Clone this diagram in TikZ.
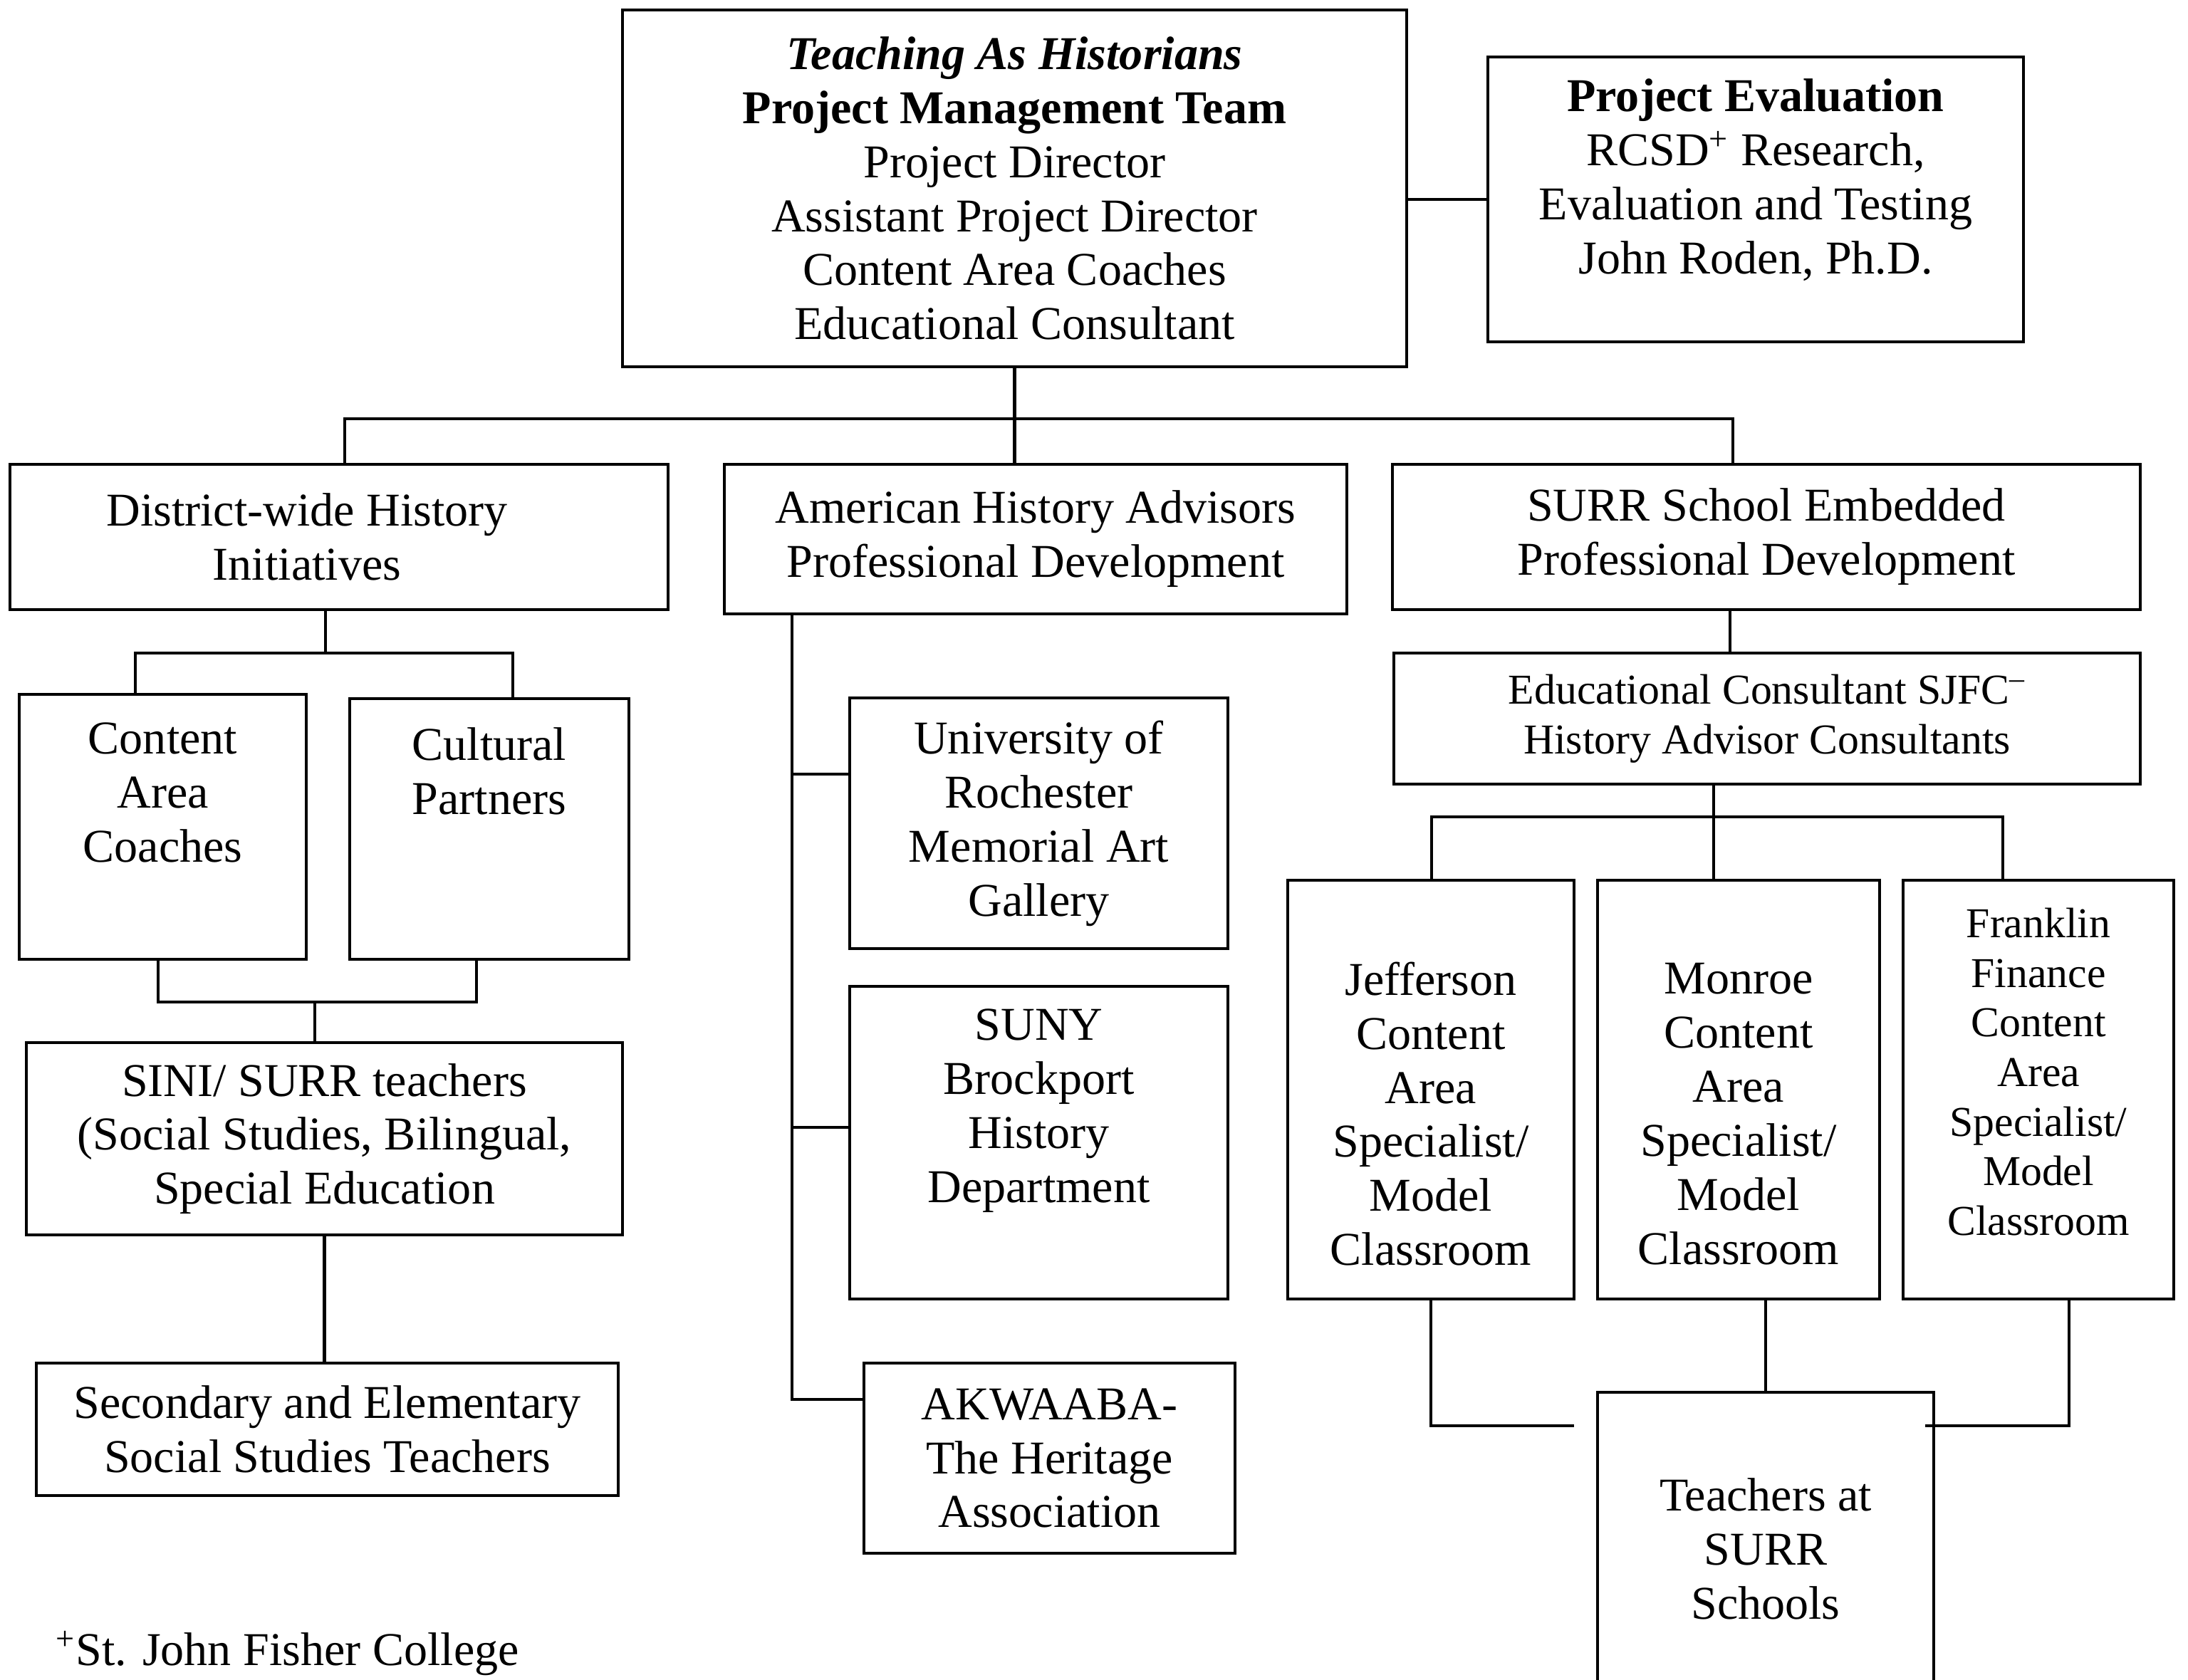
\documentclass[tikz,border=0pt]{standalone}
\usepackage{fontspec}
\setmainfont{Liberation Serif}

\tikzset{
  box/.style={draw,line width=1.2pt,inner sep=0pt,align=center,
    font=\fontsize{18.8}{21.6}\selectfont},
  txt/.style={inner sep=0pt,align=center,font=\fontsize{18.8}{21.6}\selectfont},
  smalltxt/.style={txt,font=\fontsize{17}{19.8}\selectfont},
  link/.style={line width=1.2pt}
}

\begin{document}
\begin{tikzpicture}
      \useasboundingbox (0,0) rectangle (30.72,-23.58);
      \clip (0,0) rectangle (30.72,-23.58);
      % management level
      \node[box,minimum width=11.01cm,minimum height=5.01cm] (team) at (14.245,-2.645)
        {\textbf{\textit{Teaching As Historians}}\\\textbf{Project Management Team}\\
         Project Director\\Assistant Project Director\\Content Area Coaches\\Educational Consultant};
      \node[box,minimum width=7.52cm,minimum height=4cm] (eval) at (24.65,-2.8) {};
      \node[txt] (evaltxt) at ([yshift=.27cm]eval.center)
        {\textbf{Project Evaluation}\\RCSD\textsuperscript{+} Research,\\Evaluation and Testing\\John Roden, Ph.D.};
      % three branches
      \node[box,minimum width=9.24cm,minimum height=2.04cm] (dist) at (4.76,-7.54) {};
      \node[txt] (disttxt) at ([xshift=-.45cm]dist.center) {District-wide History\\Initiatives};
      \node[box,minimum width=8.74cm,minimum height=2.1cm] (amer) at (14.54,-7.57)
        {American History Advisors\\Professional Development};
      \node[box,minimum width=10.5cm,minimum height=2.04cm] (surr) at (24.8,-7.54)
        {SURR School Embedded\\Professional Development};
      % left branch
      \node[box,minimum width=4.03cm,minimum height=3.72cm] (cont) at (2.285,-11.61) {};
      \node[txt] (conttxt) at ([yshift=.48cm]cont.center) {Content\\Area\\Coaches};
      \node[box,minimum width=3.92cm,minimum height=3.66cm] (cult) at (6.87,-11.64) {};
      \node[txt] (culttxt) at ([yshift=.81cm]cult.center) {Cultural\\Partners};
      \node[box,minimum width=8.37cm,minimum height=2.7cm] (sini) at (4.555,-15.99)
        {SINI/ SURR teachers\\(Social Studies, Bilingual,\\Special Education};
      \node[box,minimum width=8.17cm,minimum height=1.86cm] (sec) at (4.595,-20.07)
        {Secondary and Elementary\\Social Studies Teachers};
      % middle branch
      \node[box,minimum width=5.31cm,minimum height=3.52cm] (univ) at (14.585,-11.56)
        {University of\\Rochester\\Memorial Art\\Gallery};
      \node[box,minimum width=5.31cm,minimum height=4.39cm] (suny) at (14.585,-16.045) {};
      \node[txt] (sunytxt) at ([yshift=.45cm]suny.center) {SUNY\\Brockport\\History\\Department};
      \node[box,minimum width=5.21cm,minimum height=2.67cm] (akw) at (14.735,-20.475)
        {AKWAABA-\\The Heritage\\Association};
      % right branch
      \node[box,minimum width=10.48cm,minimum height=1.84cm] (edu) at (24.81,-10.09) {};
      \node[smalltxt] (edutxt) at (edu.center)
        {Educational Consultant SJFC\textsuperscript{--}\\History Advisor Consultants};
      \node[box,minimum width=4.02cm,minimum height=5.88cm] (jeff) at (20.09,-15.3) {};
      \node[txt] (jefftxt) at ([yshift=-.34cm]jeff.center)
        {Jefferson\\Content\\Area\\Specialist/\\Model\\Classroom};
      \node[box,minimum width=3.96cm,minimum height=5.88cm] (mon) at (24.41,-15.3) {};
      \node[txt] (montxt) at ([yshift=-.34cm]mon.center)
        {Monroe\\Content\\Area\\Specialist/\\Model\\Classroom};
      \node[box,minimum width=3.8cm,minimum height=5.88cm] (frank) at (28.62,-15.3) {};
      \node[smalltxt] (franktxt) at ([yshift=.25cm]frank.center)
        {Franklin\\Finance\\Content\\Area\\Specialist/\\Model\\Classroom};
      \node[box,minimum width=4.72cm,minimum height=4.65cm] (teach) at (24.79,-21.875) {};
      \node[txt] (teachtxt) at ([yshift=.125cm]teach.center) {Teachers at\\SURR\\Schools};
      % footnote
      \node[txt,anchor=base west] (note) at (0.78,-23.38) {\textsuperscript{+}St. John Fisher College};

      % connectors, top
      \draw[link] (eval.west) -- (eval.west -| team.east);
      \coordinate (busL) at (4.84,-5.88);
      \coordinate (busR) at (24.33,-5.88);
      \draw[link] (team.south) -- (team.south |- amer.north);
      \draw[link] (dist.north -| busL) -- (busL) -- (busR) -- (surr.north -| busR);
      % connectors, left
      \coordinate (dj) at (4.57,-9.17);
      \coordinate (cbL) at (1.9,-9.17);
      \coordinate (cbR) at (7.2,-9.17);
      \draw[link] (dist.south -| dj) -- (dj);
      \draw[link] (cont.north -| cbL) -- (cbL) -- (cbR) -- (cult.north -| cbR);
      \coordinate (pbL) at (2.22,-14.07);
      \coordinate (pbR) at (6.69,-14.07);
      \coordinate (pj) at (4.42,-14.07);
      \draw[link] (cont.south -| pbL) -- (pbL) -- (pbR) -- (cult.south -| pbR);
      \draw[link] (pj) -- (sini.north -| pj);
      \draw[link] (sini.south) -- (sini.south |- sec.north);
      % connectors, middle
      \coordinate (spine) at (11.12,-19.65);
      \coordinate (tu) at (11.12,-10.87);
      \coordinate (ts) at (11.12,-15.83);
      \draw[link] (amer.south -| spine) -- (spine) -- (spine -| akw.west);
      \draw[link] (tu) -- (tu -| univ.west);
      \draw[link] (ts) -- (ts -| suny.west);
      % connectors, right
      \coordinate (sx) at (24.29,-8.9);
      \draw[link] (surr.south -| sx) -- (edu.north -| sx);
      \coordinate (ebL) at (20.1,-11.47);
      \coordinate (ebM) at (24.06,-11.47);
      \coordinate (ebR) at (28.12,-11.47);
      \draw[link] (edu.south -| ebM) -- (ebM);
      \draw[link] (jeff.north -| ebL) -- (ebL) -- (ebR) -- (frank.north -| ebR);
      \draw[link] (ebM) -- (mon.north -| ebM);
      \coordinate (jl) at (22.1,-20.02);
      \coordinate (fl) at (29.05,-20.02);
      \coordinate (fr) at (27.03,-20.02);
      \draw[link] (jeff.south) |- (jl);
      \draw[link] (frank.south -| fl) -- (fl) -- (fr);
      \draw[link] (mon.south -| teach.north) -- (teach.north);
\end{tikzpicture}
\end{document}
